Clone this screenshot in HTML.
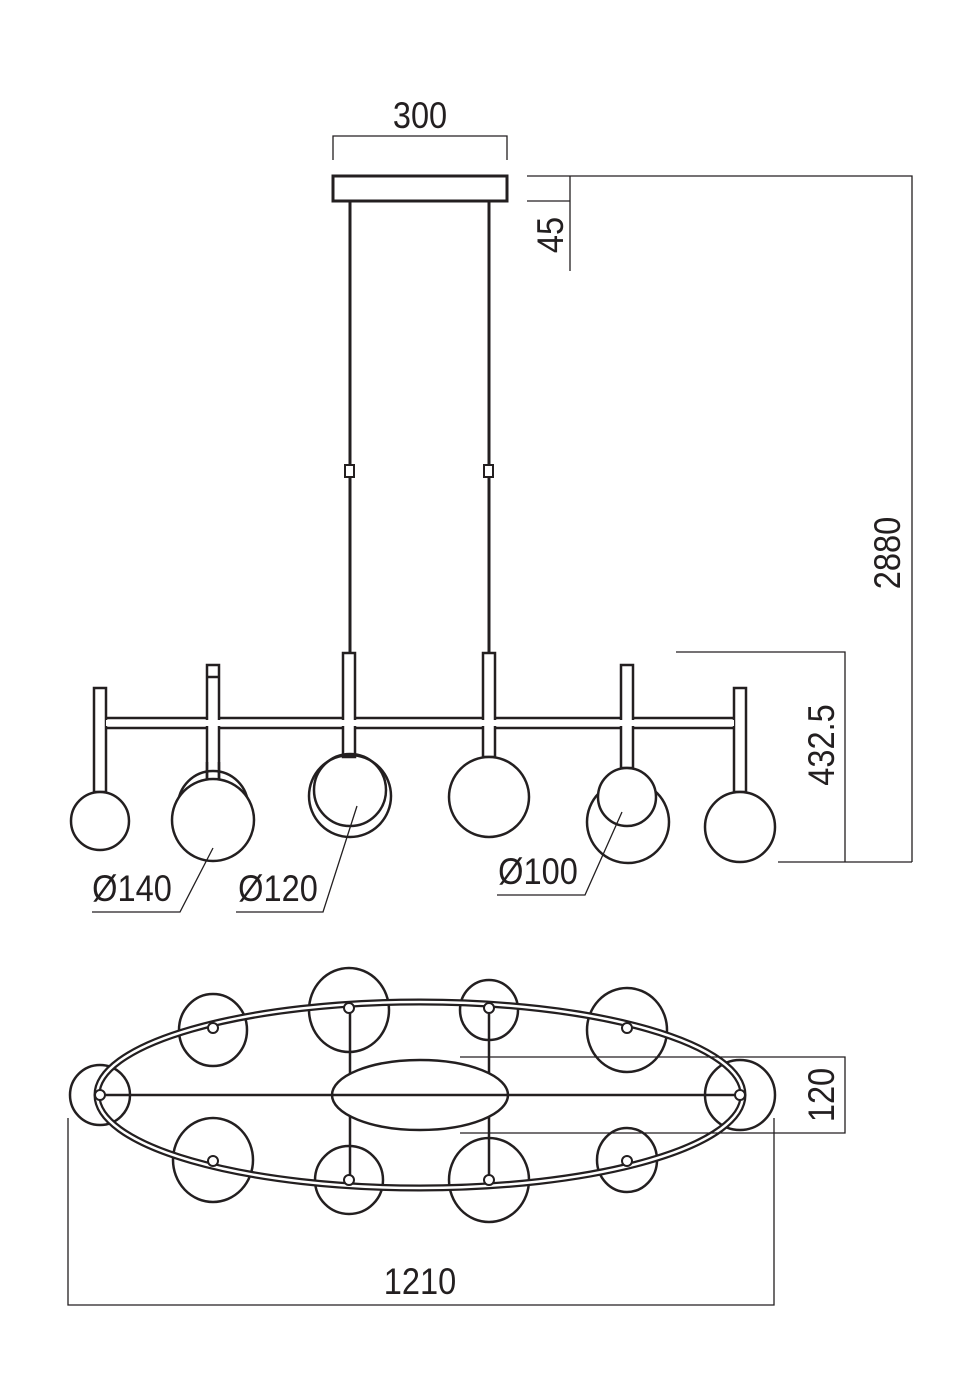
<!DOCTYPE html>
<html><head><meta charset="utf-8"><style>
html,body{margin:0;padding:0;background:#fff}
svg{display:block}
text{font-family:"Liberation Sans",sans-serif;font-size:37px;fill:#231f20}
</style></head><body>
<svg width="980" height="1400" viewBox="0 0 980 1400" xmlns="http://www.w3.org/2000/svg">
<g fill="none" stroke="#231f20">
<path d="M333 160V136H507V160" stroke-width="1.3"/>
<rect x="333" y="176" width="174" height="25" stroke-width="3"/>
<path d="M350 201V655M489 201V655" stroke-width="3"/>
<rect x="345" y="465" width="9" height="12" stroke-width="2" fill="#fff"/>
<rect x="484" y="465" width="9" height="12" stroke-width="2" fill="#fff"/>
<path d="M527 176H912V862M527 201H570M570 176V271" stroke-width="1.3"/>
<path d="M676 652H845V862M778 862H912" stroke-width="1.3"/>
<g stroke-width="2.5">
<path d="M100 718H742M100 728H742"/>
<rect x="94" y="688" width="12" height="104" fill="#fff"/>
<rect x="734" y="688" width="12" height="104" fill="#fff"/>
<rect x="207" y="665" width="12" height="115" fill="#fff"/>
<path d="M207 677H219"/>
<rect x="621" y="665" width="12" height="103" fill="#fff"/>
<rect x="343" y="653" width="12" height="104" fill="#fff"/>
<rect x="483" y="653" width="12" height="104" fill="#fff"/>
<path d="M106 723H734" stroke="#fff" stroke-width="6"/>
<circle cx="100" cy="821" r="29" fill="#fff"/>
<circle cx="213" cy="806" r="35"/>
<circle cx="213" cy="820" r="41" fill="#fff"/>
<path d="M207 780V762M219 780V762" />
<circle cx="350" cy="796" r="41"/>
<circle cx="350" cy="790" r="36"/>
<circle cx="489" cy="797" r="40" fill="#fff"/>
<circle cx="628" cy="822" r="41"/>
<circle cx="627" cy="797" r="29" fill="#fff"/>
<circle cx="740" cy="827" r="35" fill="#fff"/>
</g>
<path d="M213 848L180 912H92M357 806L323 912H236M622 812L585 895H497" stroke-width="1.3"/>
<g stroke-width="2.5">
<circle cx="100" cy="1095" r="30"/>
<circle cx="740" cy="1095" r="35"/>
<ellipse cx="213" cy="1030" rx="34" ry="36"/>
<ellipse cx="349" cy="1010" rx="40" ry="42"/>
<ellipse cx="489" cy="1010" rx="29" ry="30"/>
<ellipse cx="627" cy="1030" rx="40" ry="42"/>
<ellipse cx="213" cy="1160" rx="40" ry="42"/>
<ellipse cx="349" cy="1180" rx="34" ry="34"/>
<ellipse cx="489" cy="1180" rx="40" ry="42"/>
<ellipse cx="627" cy="1160" rx="30" ry="32"/>
<ellipse cx="420" cy="1095" rx="323" ry="93" stroke-width="7"/>
<ellipse cx="420" cy="1095" rx="323" ry="93" stroke="#fff" stroke-width="2.5"/>
<path d="M100 1095H740M350 1008V1182M489 1008V1182"/>
<ellipse cx="420" cy="1095" rx="88" ry="35" fill="#fff"/>
<path d="M332 1095H508"/>
<g fill="#fff" stroke-width="2">
<circle cx="100" cy="1095" r="5"/><circle cx="740" cy="1095" r="5"/>
<circle cx="213" cy="1028" r="5"/><circle cx="349" cy="1008" r="5"/>
<circle cx="489" cy="1008" r="5"/><circle cx="627" cy="1028" r="5"/>
<circle cx="213" cy="1161" r="5"/><circle cx="349" cy="1180" r="5"/>
<circle cx="489" cy="1180" r="5"/><circle cx="627" cy="1161" r="5"/>
</g>
</g>
<path d="M460 1057H845V1133H460" stroke-width="1.3"/>
<path d="M68 1118V1305H774V1118" stroke-width="1.3"/>
</g>
<g>
<text transform="translate(420 128) scale(0.88 1)" text-anchor="middle">300</text>
<text transform="translate(563 235) rotate(-90) scale(0.88 1)" text-anchor="middle">45</text>
<text transform="translate(900 553) rotate(-90) scale(0.88 1)" text-anchor="middle">2880</text>
<text transform="translate(834 745) rotate(-90) scale(0.88 1)" text-anchor="middle">432.5</text>
<text transform="translate(834 1095) rotate(-90) scale(0.88 1)" text-anchor="middle">120</text>
<text transform="translate(132 901) scale(0.88 1)" text-anchor="middle">Ø140</text>
<text transform="translate(278 901) scale(0.88 1)" text-anchor="middle">Ø120</text>
<text transform="translate(538 884) scale(0.88 1)" text-anchor="middle">Ø100</text>
<text transform="translate(420 1294) scale(0.88 1)" text-anchor="middle">1210</text>
</g>
</svg>
</body></html>
